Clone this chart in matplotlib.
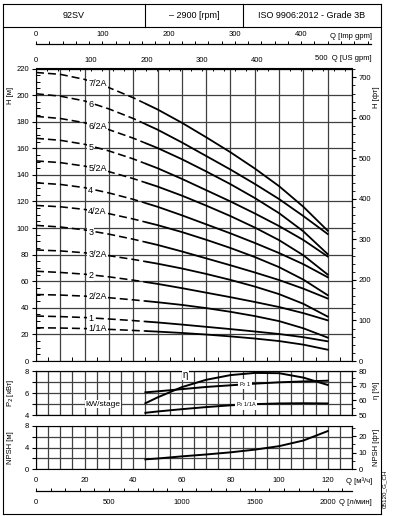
import numpy as np
import matplotlib.pyplot as plt
from matplotlib.patches import Rectangle
from matplotlib.ticker import MultipleLocator, FixedLocator

plt.rcParams['font.family'] = ['Liberation Sans', 'DejaVu Sans']
plt.rcParams['font.size'] = 5.5

W, H = 394, 516

# --- datos de las curvas H-Q (m, m3/h) ---
q_h = [0, 10, 20, 30, 40, 50, 60, 70, 80, 90, 100, 110, 120]
h_7_2A = [217.0, 215.6, 211.8, 205.6, 198.0, 189.2, 179.2, 168.3, 157.0, 144.8, 131.5, 116.0, 98.0]
h_6    = [201.0, 199.2, 195.6, 189.6, 182.4, 174.0, 164.4, 154.2, 144.0, 133.2, 121.8, 109.0, 95.5]
h_6_2A = [184.0, 182.4, 179.2, 174.0, 167.6, 160.2, 151.8, 142.6, 133.0, 122.6, 111.2, 97.5, 80.4]
h_5    = [167.5, 166.0, 163.0, 158.0, 152.0, 145.0, 137.0, 128.5, 120.0, 111.0, 101.5, 91.0, 78.6]
h_5_2A = [150.5, 149.2, 146.6, 142.4, 137.2, 131.2, 124.4, 116.9, 109.0, 100.4, 90.9, 79.5, 65.0]
h_4    = [134.0, 132.8, 130.4, 126.4, 121.6, 116.0, 109.6, 102.8, 96.0, 88.8, 81.2, 72.8, 63.0]
h_4_2A = [117.0, 116.0, 114.0, 110.8, 106.8, 102.2, 97.0, 91.2, 85.0, 78.2, 70.6, 61.2, 49.5]
h_3    = [102.0, 100.8, 98.6, 95.4, 91.6, 87.3, 82.4, 77.2, 72.0, 66.6, 60.9, 54.4, 47.0]
h_3_2A = [83.5, 82.8, 81.4, 79.2, 76.4, 73.2, 69.6, 65.5, 61.0, 56.0, 50.3, 43.0, 33.4]
h_2    = [67.5, 66.6, 65.3, 63.3, 60.8, 58.0, 54.8, 51.4, 48.0, 44.4, 40.6, 36.0, 30.6]
h_2_2A = [50.0, 49.6, 48.8, 47.6, 46.0, 44.2, 42.2, 39.8, 37.0, 33.8, 30.0, 24.6, 17.6]
h_1    = [33.8, 33.4, 32.7, 31.6, 30.4, 29.0, 27.4, 25.7, 24.0, 22.2, 20.3, 17.9, 14.8]
h_1_1A = [25.0, 24.8, 24.4, 23.8, 23.0, 22.1, 21.1, 19.9, 18.5, 16.9, 15.0, 12.3, 8.5]

etiquetas = ['7/2A', '6', '6/2A', '5', '5/2A', '4', '4/2A', '3', '3/2A', '2', '2/2A', '1', '1/1A']
curvas = [h_7_2A, h_6, h_6_2A, h_5, h_5_2A, h_4, h_4_2A, h_3, h_3_2A, h_2, h_2_2A, h_1, h_1_1A]
q_min = 45  # inicio del tramo continuo

# --- potencia, rendimiento y NPSH ---
q_p   = [45, 50, 60, 70, 80, 90, 100, 110, 120]
eta   = [58.0, 62.0, 69.0, 74.0, 77.2, 78.7, 78.5, 75.5, 70.5]
p2_1  = [6.06, 6.15, 6.35, 6.55, 6.70, 6.85, 6.97, 7.05, 7.12]
p2_1A = [4.20, 4.32, 4.53, 4.72, 4.88, 4.99, 5.05, 5.07, 5.05]
npsh  = [1.8, 1.95, 2.35, 2.7, 3.1, 3.6, 4.25, 5.3, 7.05]

M3H_US = 0.227125
M3H_IMP = 0.272765
M_FT = 3.28084


def caja(x0, y0, x1, y1):
    return [x0 / W, 1 - y1 / H, (x1 - x0) / W, (y1 - y0) / H]


def texto(x, y, s, **kw):
    fig.text(x / W, 1 - y / H, s, **kw)


def linea(x0, y0, x1, y1, lw=0.8):
    fig.add_artist(plt.Line2D([x0 / W, x1 / W], [1 - y0 / H, 1 - y1 / H],
                              transform=fig.transFigure, color='k', lw=lw))


fig = plt.figure(figsize=(W / 100, H / 100), dpi=100)
grid_kw = dict(color='#404040', lw=0.9)
caja_blanca = dict(facecolor='white', edgecolor='none', pad=0.4)

# --- cabecera y marco ---
linea(3, 4, 381, 4)
linea(3, 514, 381, 514)
linea(3, 4, 3, 514)
linea(381, 4, 381, 514)
linea(3, 27, 381, 27)
linea(145, 4, 145, 27)
linea(243, 4, 243, 27)
texto(74, 16, '92SV', ha='center', va='center', fontsize=6.5)
texto(194, 16, '\u2013 2900 [rpm]', ha='center', va='center', fontsize=6.5)
texto(312, 16, 'ISO 9906:2012 - Grade 3B', ha='center', va='center', fontsize=6.5)

# --- escala Imp gpm ---
ax_imp = fig.add_axes(caja(36, 44, 371, 44))
ax_imp.set_facecolor('none')
for s in ['left', 'right', 'bottom']:
    ax_imp.spines[s].set_visible(False)
ax_imp.spines['top'].set_linewidth(0.9)
ax_imp.set_xlim(0, (371 - 36) / 316 * 130 / M3H_IMP)
ax_imp.set_yticks([])
ax_imp.xaxis.tick_top()
ax_imp.set_xticks([0, 100, 200, 300, 400])
ax_imp.xaxis.set_minor_locator(MultipleLocator(20))
ax_imp.tick_params(axis='x', which='both', direction='out', length=2.2, width=0.7, pad=2)
texto(372, 36, 'Q [Imp gpm]', ha='right', va='center')

# --- grafico principal H-Q ---
ax = fig.add_axes(caja(36, 68.5, 352, 361))
ax.set_xlim(0, 130)
ax.set_ylim(0, 220)
ax.set_axisbelow(True)
for lab, h in zip(etiquetas, curvas):
    l1, = ax.plot(q_h, h, color='k', lw=1.15, dashes=(5, 2.5))
    l1.set_clip_path(Rectangle((0, -10), q_min, 240, transform=ax.transData))
    l2, = ax.plot(q_h, h, color='k', lw=1.3)
    l2.set_clip_path(Rectangle((q_min, -10), 100, 240, transform=ax.transData))
    ax.text(21.5, np.interp(25, q_h, h), lab, fontsize=6.5, ha='left', va='center',
            bbox=dict(facecolor='white', edgecolor='none', pad=0.6), zorder=5)

ax.set_xticks(np.arange(0, 131, 10))
ax.xaxis.set_minor_locator(FixedLocator(np.arange(5, 130, 10)))
ax.tick_params(axis='x', which='major', length=0, labelbottom=False)
ax.tick_params(axis='x', which='minor', direction='in', length=3, width=0.7)
ax.set_yticks(np.arange(0, 221, 20))
ax.yaxis.set_minor_locator(MultipleLocator(5))
ax.tick_params(axis='y', which='major', direction='out', length=3, width=0.8, pad=2)
ax.tick_params(axis='y', which='minor', direction='in', length=3, width=0.7)
ax.grid(True, which='major', **grid_kw)

sx = ax.secondary_xaxis('top', functions=(lambda q: q / M3H_US, lambda g: g * M3H_US))
sx.set_xticks([0, 100, 200, 300, 400, 500])
sx.set_xticklabels(['0', '100', '200', '300', '400', ''])
sx.xaxis.set_minor_locator(MultipleLocator(20))
sx.tick_params(axis='x', which='both', direction='in', length=2.5, width=0.7, pad=3)
texto(372, 58, '500  Q [US gpm]', ha='right', va='center')

sy = ax.secondary_yaxis('right', functions=(lambda m: m * M_FT, lambda f: f / M_FT))
sy.set_yticks(np.arange(0, 701, 100))
sy.yaxis.set_minor_locator(MultipleLocator(20))
sy.tick_params(axis='y', which='major', direction='out', length=3, width=0.8, pad=2)
sy.tick_params(axis='y', which='minor', direction='out', length=1.8, width=0.6)

texto(11, 95, 'H [\u043c]', rotation=90, ha='center', va='center')
texto(376, 97, 'H [\u0444\u0442]', rotation=90, ha='center', va='center')

# --- potencia y rendimiento ---
ax_p = fig.add_axes(caja(36, 371, 352, 415))
ax_p.set_xlim(0, 130)
ax_p.set_ylim(4, 8)
ax_p.set_axisbelow(True)
ax_p.set_xticks(np.arange(0, 131, 5))
ax_p.tick_params(axis='x', length=0, labelbottom=False)
ax_p.set_yticks([4, 5, 6, 7, 8])
ax_p.set_yticklabels(['4', '', '6', '', '8'])
ax_p.tick_params(axis='y', direction='out', length=3, width=0.8, pad=2)
ax_p.grid(True, **grid_kw)
ax_p.plot(q_p, p2_1, color='k', lw=1.4)
ax_p.plot(q_p, p2_1A, color='k', lw=1.4)
ax_p.text(86, np.interp(86, q_p, p2_1), 'P$_2$ 1', fontsize=4, ha='center', va='center',
          bbox=caja_blanca, zorder=5)
ax_p.text(86.5, np.interp(86.5, q_p, p2_1A), 'P$_2$ 1/1A', fontsize=4, ha='center',
          va='center', bbox=caja_blanca, zorder=5)
ax_p.text(27.5, 5.0, 'kW/stage', fontsize=6, ha='center', va='center',
          bbox=dict(facecolor='white', edgecolor='none', pad=0.5), zorder=5)

ax_e = ax_p.twinx()
ax_e.set_ylim(50, 80)
ax_e.set_yticks([50, 60, 70, 80])
ax_e.yaxis.set_minor_locator(MultipleLocator(5))
ax_e.tick_params(axis='y', which='major', direction='out', length=3, width=0.8, pad=2)
ax_e.tick_params(axis='y', which='minor', direction='out', length=1.8, width=0.6)
ax_e.plot(q_p, eta, color='k', lw=1.4)
ax_e.text(61.5, 77.5, '\u03b7', fontsize=7, ha='center', va='center',
          bbox=dict(facecolor='white', edgecolor='none', pad=0.3), zorder=5)

texto(11, 393, 'P$_2$ [\u043a\u0412\u0442]', rotation=90, ha='center', va='center')
texto(376, 390, '\u03b7 [%]', rotation=90, ha='center', va='center')

# --- NPSH ---
ax_n = fig.add_axes(caja(36, 426, 352, 469))
ax_n.set_xlim(0, 130)
ax_n.set_ylim(0, 8)
ax_n.set_axisbelow(True)
ax_n.set_xticks(np.arange(0, 131, 5))
ax_n.set_xticklabels([str(v) if v % 20 == 0 and v <= 120 else '' for v in range(0, 131, 5)])
ax_n.tick_params(axis='x', length=0, pad=6)
ax_n.set_yticks([0, 2, 4, 6, 8])
ax_n.set_yticklabels(['0', '', '4', '', '8'])
ax_n.tick_params(axis='y', direction='out', length=3, width=0.8, pad=2)
ax_n.grid(True, **grid_kw)
ax_n.plot(q_p, npsh, color='k', lw=1.4)

sn = ax_n.secondary_yaxis('right', functions=(lambda m: m * M_FT, lambda f: f / M_FT))
sn.set_yticks([0, 10, 20])
sn.yaxis.set_minor_locator(MultipleLocator(5))
sn.tick_params(axis='y', which='major', direction='out', length=3, width=0.8, pad=2)
sn.tick_params(axis='y', which='minor', direction='out', length=1.8, width=0.6)

texto(11, 448, 'NPSH [\u043c]', rotation=90, ha='center', va='center')
texto(376, 447, 'NPSH [\u0444\u0442]', rotation=90, ha='center', va='center')
texto(372, 481, 'Q [\u043c\u00b3/\u0447]', ha='right', va='center')

# --- escala l/min ---
ax_l = fig.add_axes(caja(36, 491, 352, 491))
ax_l.set_facecolor('none')
for s in ['left', 'right', 'top']:
    ax_l.spines[s].set_visible(False)
ax_l.spines['bottom'].set_linewidth(0.9)
ax_l.set_xlim(0, 130 / 0.06)
ax_l.set_yticks([])
ax_l.set_xticks([0, 500, 1000, 1500, 2000])
ax_l.xaxis.set_minor_locator(MultipleLocator(100))
ax_l.tick_params(axis='x', which='both', direction='in', length=2.2, width=0.7, pad=6)
texto(372, 502, 'Q [\u043b/\u043c\u0438\u043d]', ha='right', va='center')
texto(385, 489, '05120_G_CH', rotation=90, ha='center', va='center', fontsize=4.5)

plt.savefig('out.png', dpi=100)
